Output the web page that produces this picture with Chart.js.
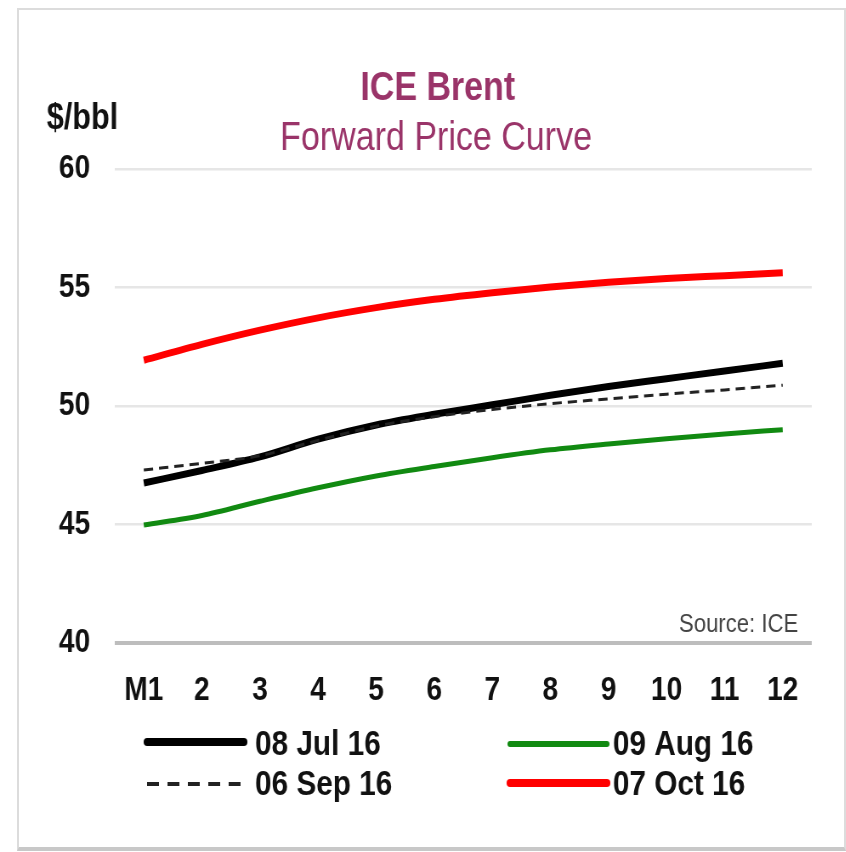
<!DOCTYPE html>
<html>
<head>
<meta charset="utf-8">
<script src="https://cdn.jsdelivr.net/npm/chart.js@4.4.1/dist/chart.umd.min.js"></script>
<style>
  html, body { margin:0; padding:0; background:#fff; overflow:hidden; width:846px; height:852px; }
  #frame { position:absolute; left:17px; top:8px; width:829px; height:843px; box-sizing:border-box;
           border:2px solid #dcdcdc; border-bottom:4px solid #c8c8c8; }
  #wrap { position:absolute; left:0; top:0; width:995px; height:852px; transform:scaleX(0.85); transform-origin:0 0; }
  canvas { display:block; }
</style>
</head>
<body>
<div id="frame"></div>
<div id="wrap"><canvas id="c" width="995" height="852"></canvas></div>
<script>
// ---- data ----
const categories = ['M1','2','3','4','5','6','7','8','9','10','11','12'];
const jul08 = [46.75, 47.28, 47.85, 48.60, 49.20, 49.65, 50.05, 50.45, 50.82, 51.15, 51.48, 51.80];
const aug09 = [44.98, 45.38, 45.98, 46.55, 47.05, 47.45, 47.82, 48.15, 48.40, 48.62, 48.82, 49.00];
const sep06 = [47.30, 47.58, 47.90, 48.55, 49.15, 49.55, 49.85, 50.10, 50.30, 50.50, 50.68, 50.88];
const oct07 = [51.93, 52.60, 53.20, 53.72, 54.15, 54.50, 54.78, 55.02, 55.22, 55.38, 55.50, 55.62];
const seriesNames = ['08 Jul 16', '09 Aug 16', '06 Sep 16', '07 Oct 16'];
const yTicks = [40, 45, 50, 55, 60];
const titleText = 'ICE Brent';
const subtitleText = 'Forward Price Curve';
const unitText = '$/bbl';
const sourceText = 'Source: ICE';

const FONT = '"Liberation Sans", Arial, sans-serif';
const TITLE_COLOR = '#9a3469';

const datasets = [
  { label: seriesNames[2], data: sep06, borderColor: '#222', borderWidth: 3, borderDash: [11, 7] },
  { label: seriesNames[0], data: jul08, borderColor: '#000', borderWidth: 7 },
  { label: seriesNames[1], data: aug09, borderColor: '#118a11', borderWidth: 5 },
  { label: seriesNames[3], data: oct07, borderColor: '#ff0000', borderWidth: 7 }
].map(d => Object.assign({ pointRadius: 0, tension: 0.4, cubicInterpolationMode: 'monotone', fill: false }, d));

// legend layout (internal canvas coordinates)
const legendSlots = {
  '08 Jul 16': { x: 173, y: 742, tx: 300, ty: 755 },
  '06 Sep 16': { x: 173, y: 784, tx: 300, ty: 795 },
  '09 Aug 16': { x: 600, y: 744, tx: 721, ty: 755 },
  '07 Oct 16': { x: 600, y: 783, tx: 721, ty: 795 }
};

const decorPlugin = {
  id: 'decor',
  afterDraw(chart) {
    const ctx = chart.ctx;
    ctx.save();
    ctx.textBaseline = 'alphabetic';
    // titles
    ctx.fillStyle = TITLE_COLOR;
    ctx.textAlign = 'center';
    ctx.font = 'bold 40px ' + FONT;
    ctx.fillText(titleText, 515, 100);
    ctx.font = '40px ' + FONT;
    ctx.fillText(subtitleText, 513, 150);
    // unit
    ctx.fillStyle = '#111';
    ctx.textAlign = 'left';
    ctx.font = 'bold 36px ' + FONT;
    ctx.fillText(unitText, 55, 129);
    // source
    ctx.fillStyle = '#444';
    ctx.textAlign = 'right';
    ctx.font = '26px ' + FONT;
    ctx.fillText(sourceText, 939, 632);
    // legend
    ctx.textAlign = 'left';
    ctx.font = 'bold 35px ' + FONT;
    chart.data.datasets.forEach(ds => {
      const s = legendSlots[ds.label];
      if (!s) return;
      ctx.beginPath();
      ctx.strokeStyle = ds.borderColor;
      ctx.lineWidth = ds.borderWidth + 1;
      ctx.lineCap = ds.borderDash ? 'butt' : 'round';
      ctx.setLineDash(ds.borderDash ? [14, 10] : []);
      ctx.moveTo(s.x, s.y);
      ctx.lineTo(s.x + 114, s.y);
      ctx.stroke();
      ctx.setLineDash([]);
      ctx.fillStyle = '#111';
      ctx.fillText(ds.label, s.tx, s.ty);
    });
    ctx.restore();
  }
};

new Chart(document.getElementById('c'), {
  type: 'line',
  data: { labels: categories, datasets: datasets },
  options: {
    responsive: false,
    animation: false,
    devicePixelRatio: 1,
    layout: { padding: { left: 0, right: 40, top: 169, bottom: 149 } },
    plugins: { legend: { display: false }, tooltip: { enabled: false }, title: { display: false } },
    scales: {
      x: {
        offset: true,
        grid: { display: false, drawTicks: false },
        border: { display: false },
        ticks: { color: '#111', font: { family: FONT, size: 33, weight: 'bold' }, padding: 28, maxRotation: 0, autoSkip: false },
        afterFit(scale) { scale.height = 60; }
      },
      y: {
        min: 40, max: 60,
        afterBuildTicks(scale) { scale.ticks = yTicks.map(v => ({ value: v })); },
        grid: {
          drawTicks: false,
          color: ctx => (ctx.tick && ctx.tick.value === 40) ? '#bdbdbd' : '#e6e6e6',
          lineWidth: ctx => (ctx.tick && ctx.tick.value === 40) ? 4 : 2.5
        },
        border: { display: false },
        ticks: { color: '#111', font: { family: FONT, size: 33, weight: 'bold' }, padding: 29 },
        afterFit(scale) { scale.width = 135; }
      }
    }
  },
  plugins: [decorPlugin]
});
</script>
</body>
</html>
